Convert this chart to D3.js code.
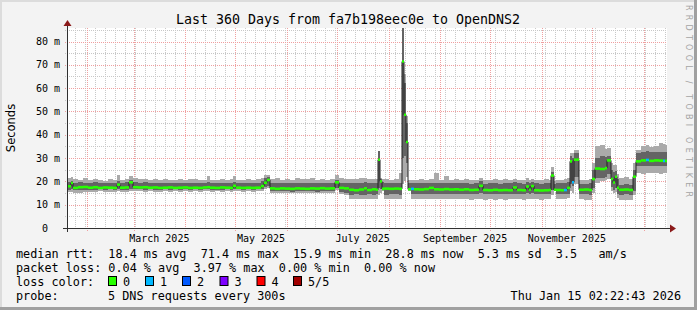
<!DOCTYPE html>
<html>
<head>
<meta charset="utf-8">
<script src="https://cdn.jsdelivr.net/npm/d3@7"></script>
<style>
  body { margin: 0; background: #f3f3f3; }
  svg { display: block; font-family: "DejaVu Sans Mono", monospace; }
</style>
</head>
<body>
<script>
// ---- data ----
var titleText = "Last 360 Days from fa7b198eec0e to OpenDNS2";
var startTime = "2025-01-20T02:22:43Z";
var endTime = "2026-01-15T02:22:43Z";

// days since start where each consolidated step begins
var dayOffset = [
  0, 2.4, 3.6, 6.6, 9.6, 12.6, 15.6, 18.6, 21.6, 24.6,
  27.6, 30, 31.8, 34.8, 37.2, 39.6, 42.6, 45.6, 48.6, 51.6,
  54.6, 57.6, 60.6, 63.6, 66.6, 69.6, 72.6, 75.6, 78.6, 81.6,
  84, 85.8, 88.8, 91.8, 94.8, 97.8, 99.6, 101.4, 104.4, 107.4,
  110.4, 113.4, 116.4, 118.2, 120, 121.8, 124.8, 127.8, 130.8, 133.8,
  136.8, 139.8, 142.8, 145.8, 148.8, 151.8, 154.8, 157.8, 160.8, 163.2,
  166.2, 169.2, 172.2, 175.2, 178.2, 180, 183, 185.4, 186.6, 187.8,
  189, 190.2, 193.2, 196.2, 199.2, 201, 202.2, 203.4, 204.6, 206.4,
  208.2, 211.2, 214.2, 217.2, 220.2, 223.2, 226.2, 229.2, 232.2, 235.2,
  238.2, 241.2, 244.2, 247.2, 249.6, 252.6, 255.6, 258.6, 261.6, 264.6,
  267.6, 270, 273, 275.4, 277.2, 278.4, 280.2, 283.2, 286.2, 289.2,
  290.4, 292.2, 293.4, 296.4, 298.2, 300, 301.8, 303, 304.2, 307.2,
  310.2, 313.2, 315, 316.8, 319.8, 322.8, 324, 326.4, 327.6, 328.8,
  330, 331.2, 334.2, 337.2, 339.6, 341.4, 344.4, 347.4, 349.2, 352.2,
  355.2, 357.6, 358.8
];

// median rtt (ms)
var medianRtt = [
  17.9, 19.3, 17.2, 17.5, 17.6, 17.3, 17.5, 17.2, 17.4, 17.3,
  17.2, 18.6, 17.3, 17.4, 19.6, 17.5, 17.4, 17.5, 17.3, 17.4,
  17.2, 17.3, 17.4, 17.2, 17.3, 17.4, 17.2, 17.3, 17.2, 17.4,
  17.5, 17.3, 17.2, 17.4, 17.3, 17.2, 18.1, 17.3, 17.2, 17.3,
  17.2, 17.3, 18.0, 19.4, 20.6, 17.0, 16.8, 17.0, 16.9, 16.8,
  17.0, 16.9, 16.8, 17.0, 16.9, 17.1, 16.9, 17.0, 19.6, 17.2,
  17.0, 16.4, 16.2, 16.5, 17.0, 16.3, 16.6, 16.4, 29.3, 20.0,
  16.8, 16.9, 16.8, 16.9, 16.8, 71.4, 48.6, 36.9, 16.6, 16.8,
  16.6, 16.5, 16.7, 17.2, 16.6, 16.5, 16.7, 16.5, 16.6, 16.4,
  16.6, 16.3, 16.4, 18.1, 16.3, 16.2, 16.4, 16.2, 16.3, 16.2,
  17.4, 16.3, 16.2, 17.8, 16.4, 18.0, 16.2, 16.1, 16.2, 16.3,
  22.5, 16.4, 16.3, 16.2, 16.3, 17.2, 28.6, 19.6, 29.3, 16.4,
  16.5, 16.3, 21.0, 25.5, 25.3, 25.7, 29.0, 21.0, 19.5, 22.0,
  17.2, 16.4, 16.5, 16.3, 22.0, 28.6, 29.0, 29.2, 28.8, 29.0,
  28.9, 28.8, 28.8
];

// smoke: lowest ping, inner band low, inner band high, highest ping (ms)
var pingMin = [
  15.3, 15.6, 15.0, 15.2, 15.4, 15.6, 15.5, 15.7, 15.6, 15.5,
  15.6, 15.8, 15.6, 15.5, 16.0, 15.7, 15.8, 15.6, 15.7, 15.6,
  15.5, 15.7, 15.6, 15.8, 15.6, 15.7, 15.6, 15.8, 15.6, 15.7,
  15.8, 15.6, 15.7, 15.6, 15.8, 15.6, 15.9, 15.7, 15.6, 15.7,
  15.6, 15.8, 16.0, 16.6, 17.0, 15.0, 15.1, 15.0, 15.2, 15.0,
  15.1, 15.0, 15.2, 15.0, 15.1, 15.0, 15.2, 15.0, 16.2, 14.8,
  14.2, 12.6, 12.4, 12.3, 12.5, 12.4, 12.6, 12.5, 14.0, 15.0,
  16.0, 12.5, 12.4, 12.6, 12.5, 19.0, 20.0, 22.0, 16.0, 12.4,
  12.3, 12.4, 12.3, 12.5, 12.4, 12.3, 12.4, 12.3, 12.5, 12.3,
  12.4, 12.2, 12.3, 12.6, 12.2, 12.3, 12.1, 12.3, 12.2, 12.4,
  12.5, 12.3, 12.2, 12.6, 12.3, 12.5, 12.3, 12.2, 12.3, 12.4,
  14.0, 15.8, 12.4, 12.3, 12.5, 13.0, 16.0, 15.0, 19.0, 12.4,
  12.2, 12.1, 15.0, 19.5, 20.0, 20.5, 21.0, 16.0, 15.0, 15.5,
  13.0, 12.1, 12.0, 12.2, 14.0, 23.6, 23.2, 23.5, 23.4, 23.6,
  23.3, 23.5, 23.4
];
var pingLow = [
  16.4, 16.8, 16.2, 16.3, 16.5, 16.5, 16.4, 16.6, 16.5, 16.6,
  16.4, 16.7, 16.5, 16.4, 16.9, 16.6, 16.6, 16.5, 16.6, 16.5,
  16.4, 16.6, 16.5, 16.6, 16.5, 16.6, 16.4, 16.6, 16.5, 16.6,
  16.7, 16.5, 16.5, 16.4, 16.6, 16.5, 16.8, 16.6, 16.5, 16.6,
  16.4, 16.6, 16.9, 17.6, 18.2, 15.8, 15.7, 15.8, 15.7, 15.6,
  15.8, 15.7, 15.8, 15.7, 15.6, 15.8, 15.7, 15.8, 17.0, 15.6,
  15.2, 14.3, 14.4, 14.2, 14.3, 14.4, 14.3, 14.5, 17.0, 16.6,
  16.3, 14.3, 14.4, 14.5, 14.3, 30.0, 30.7, 28.0, 16.2, 14.5,
  14.6, 14.4, 14.5, 14.6, 14.5, 14.4, 14.6, 14.5, 14.4, 14.5,
  14.5, 14.6, 14.5, 15.0, 14.6, 14.5, 14.4, 14.6, 14.5, 14.5,
  14.8, 14.5, 14.4, 15.0, 14.6, 15.0, 14.5, 14.4, 14.5, 14.6,
  16.5, 16.0, 14.5, 14.4, 14.6, 14.8, 19.0, 18.0, 22.0, 14.6,
  14.4, 14.3, 17.0, 21.4, 21.4, 22.0, 23.0, 17.5, 16.5, 17.0,
  14.8, 14.3, 14.4, 14.3, 16.0, 26.4, 26.4, 26.6, 26.4, 26.6,
  26.4, 26.5, 26.5
];
var pingHigh = [
  19.6, 20.3, 19.4, 19.8, 19.5, 19.3, 19.6, 19.2, 19.4, 19.5,
  19.3, 20.0, 19.5, 19.6, 20.6, 19.8, 19.4, 19.6, 19.3, 19.5,
  19.4, 19.5, 19.3, 19.4, 19.5, 19.3, 19.4, 19.5, 19.3, 19.4,
  19.6, 19.4, 19.3, 19.5, 19.4, 19.3, 19.8, 19.4, 19.3, 19.5,
  19.4, 19.3, 20.0, 21.4, 22.0, 19.3, 19.2, 19.4, 19.3, 19.2,
  19.4, 19.3, 19.2, 19.4, 19.3, 19.4, 19.3, 19.4, 20.8, 19.3,
  19.2, 19.2, 19.3, 19.4, 19.6, 19.3, 19.4, 19.3, 32.9, 21.0,
  19.6, 19.4, 19.3, 19.4, 19.3, 90.0, 62.0, 45.0, 19.2, 19.2,
  19.1, 19.2, 19.3, 19.4, 19.2, 19.3, 19.4, 19.2, 19.3, 19.1,
  19.3, 19.0, 19.2, 20.0, 19.0, 19.2, 19.1, 19.0, 19.2, 19.1,
  19.6, 19.2, 19.0, 19.8, 19.1, 19.8, 19.2, 19.0, 19.1, 19.2,
  24.0, 19.0, 19.2, 19.1, 19.3, 19.6, 31.0, 30.0, 32.0, 19.0,
  18.8, 19.1, 25.0, 30.0, 30.7, 30.5, 31.0, 25.0, 24.0, 24.5,
  21.0, 18.6, 18.8, 18.6, 25.0, 32.0, 32.5, 32.9, 32.4, 32.8,
  32.6, 32.5, 32.4
];
var pingMax = [
  21.3, 21.9, 21.0, 20.6, 21.4, 20.4, 21.0, 20.7, 20.3, 21.0,
  20.6, 22.9, 20.8, 21.2, 22.4, 21.5, 20.9, 21.1, 20.5, 21.0,
  20.4, 21.1, 20.6, 20.8, 21.2, 20.5, 20.9, 21.0, 20.4, 20.8,
  22.3, 20.7, 20.5, 21.0, 20.6, 20.9, 22.4, 20.8, 20.5, 21.0,
  20.6, 20.9, 21.6, 22.9, 22.9, 21.0, 21.4, 20.8, 21.2, 20.6,
  21.3, 20.9, 21.0, 21.4, 20.7, 21.2, 20.8, 21.0, 22.9, 21.3,
  21.0, 21.2, 20.9, 21.4, 21.6, 21.0, 21.2, 21.1, 32.9, 21.6,
  21.0, 21.0, 20.6, 21.2, 23.5, 90.0, 66.0, 48.0, 20.6, 20.7,
  20.5, 20.9, 20.6, 21.0, 23.6, 20.8, 22.5, 20.6, 21.0, 20.5,
  20.9, 20.7, 20.6, 21.4, 20.8, 20.5, 20.9, 20.6, 21.0, 20.7,
  21.2, 20.8, 20.6, 21.4, 20.7, 21.0, 20.8, 20.5, 20.9, 20.7,
  26.2, 20.0, 20.8, 20.6, 20.9, 21.6, 32.2, 32.0, 33.5, 20.8,
  20.6, 21.0, 28.0, 35.0, 35.7, 34.0, 34.5, 28.0, 27.0, 27.0,
  23.0, 21.5, 21.8, 21.0, 28.0, 33.5, 35.0, 35.5, 34.8, 35.2,
  36.5, 36.0, 35.8
];
// lost pings per step (out of 5)
var lostPings = [
  0, 0, 0, 0, 0, 0, 0, 0, 0, 0,
  0, 0, 0, 0, 0, 0, 0, 0, 0, 0,
  0, 0, 0, 0, 0, 0, 0, 0, 0, 0,
  0, 0, 0, 0, 0, 0, 0, 0, 0, 0,
  0, 0, 0, 0, 0, 0, 0, 0, 0, 0,
  0, 0, 0, 0, 0, 0, 0, 0, 0, 0,
  0, 0, 0, 0, 0, 0, 0, 0, 0, 0,
  0, 0, 0, 0, 0, 0, 0, 0, 0, 1,
  0, 0, 0, 0, 0, 0, 0, 0, 0, 0,
  0, 0, 0, 0, 0, 0, 0, 0, 0, 0,
  0, 0, 0, 0, 0, 0, 0, 0, 0, 0,
  0, 0, 0, 0, 1, 0, 0, 1, 0, 0,
  0, 0, 0, 0, 0, 0, 0, 0, 0, 0,
  0, 0, 0, 0, 0, 0, 0, 1, 0, 0,
  0, 1, 0
];

var yTickValues = [0, 10, 20, 30, 40, 50, 60, 70, 80];
var yTickLabels = ["0", "10 m", "20 m", "30 m", "40 m", "50 m", "60 m", "70 m", "80 m"];
var xTickLabels = ["March 2025", "May 2025", "July 2025", "September 2025", "November 2025"];

var lossNames = ["0", "1", "2", "3", "4", "5/5"];
var lossColors = ["#26ff00", "#00b8ff", "#0059ff", "#7e00ff", "#ff0000", "#a10000"];

var legendRtt = ["18.4 ms avg", "71.4 ms max", "15.9 ms min", "28.8 ms now", "5.3 ms sd", "3.5   am/s"];
var legendLoss = ["0.04 % avg", "3.97 % max", "0.00 % min", "0.00 % now"];
var probeText = "5 DNS requests every 300s";
var stampText = "Thu Jan 15 02:22:43 2026";

// ---- layout ----
var W = 697, H = 310;
var plotLeft = 67, plotTop = 28, plotW = 600, plotH = 200;
var plotBottom = plotTop + plotH;

var t0 = new Date(startTime), t1 = new Date(endTime);
var DAY = 86400000;

var rows = dayOffset.map(function (d, i) {
    return {
        t: new Date(t0.getTime() + d * DAY),
        med: medianRtt[i], lo: pingMin[i], ilo: pingLow[i],
        ihi: pingHigh[i], hi: pingMax[i], loss: lostPings[i]
    };
});
var lastRow = rows[rows.length - 1];
var rowsEnd = rows.concat([Object.assign({}, lastRow, { t: t1 })]);

var x = d3.scaleUtc().domain([t0, t1]).range([plotLeft, plotLeft + plotW]);
var y = d3.scaleLinear().domain([0, 85.8]).range([plotBottom, plotTop]);

var svg = d3.select("body").append("svg")
    .attr("width", W)
    .attr("height", H);

// frame
svg.append("rect").attr("width", W).attr("height", H).attr("fill", "#f3f3f3");
svg.append("rect").attr("x", 0).attr("y", 0).attr("width", W).attr("height", 2).attr("fill", "#dcdcdc");
svg.append("rect").attr("x", 0).attr("y", 0).attr("width", 2).attr("height", H).attr("fill", "#dcdcdc");
svg.append("rect").attr("x", W - 3).attr("y", 0).attr("width", 3).attr("height", H).attr("fill", "#a0a0a0");
svg.append("rect").attr("x", 0).attr("y", H - 3).attr("width", W).attr("height", 3).attr("fill", "#a0a0a0");

// canvas
svg.append("rect")
    .attr("x", plotLeft).attr("y", plotTop)
    .attr("width", plotW).attr("height", plotH)
    .attr("fill", "#ffffff");

svg.append("defs").append("clipPath").attr("id", "clip")
    .append("rect")
    .attr("x", plotLeft).attr("y", plotTop)
    .attr("width", plotW).attr("height", plotH);

var grid = svg.append("g").attr("shape-rendering", "crispEdges");

// minor grid
var minorY = d3.range(5, 86, 10);
grid.selectAll(".hminor").data(minorY).enter().append("line")
    .attr("x1", plotLeft - 2).attr("x2", plotLeft + plotW)
    .attr("y1", function (d) { return Math.round(y(d)) + 0.5; })
    .attr("y2", function (d) { return Math.round(y(d)) + 0.5; })
    .attr("stroke", "#c8c8c8").attr("stroke-dasharray", "1,1");

var minorX = d3.range(5, 360, 6).map(function (d) { return new Date(t0.getTime() + d * DAY); });
grid.selectAll(".vminor").data(minorX).enter().append("line")
    .attr("x1", function (d) { return Math.round(x(d)) + 0.5; })
    .attr("x2", function (d) { return Math.round(x(d)) + 0.5; })
    .attr("y1", plotTop).attr("y2", plotBottom + 2)
    .attr("stroke", "#c8c8c8").attr("stroke-dasharray", "1,1");

// major grid
grid.selectAll(".hmajor").data(yTickValues.slice(1)).enter().append("line")
    .attr("x1", plotLeft - 2).attr("x2", plotLeft + plotW)
    .attr("y1", function (d) { return Math.round(y(d)) + 0.5; })
    .attr("y2", function (d) { return Math.round(y(d)) + 0.5; })
    .attr("stroke", "#f0a0a0").attr("stroke-dasharray", "1,1");

var months = d3.utcMonth.range(t0, t1);
grid.selectAll(".vmajor").data(months).enter().append("line")
    .attr("x1", function (d) { return Math.round(x(d)) + 0.5; })
    .attr("x2", function (d) { return Math.round(x(d)) + 0.5; })
    .attr("y1", plotTop).attr("y2", plotBottom + 3)
    .attr("stroke", "#f0a0a0").attr("stroke-dasharray", "1,1");

// smoke and median
var plot = svg.append("g").attr("clip-path", "url(#clip)");

var outer = d3.area().curve(d3.curveStepAfter)
    .x(function (d) { return x(d.t); })
    .y0(function (d) { return y(d.lo); })
    .y1(function (d) { return y(d.hi); });
var inner = d3.area().curve(d3.curveStepAfter)
    .x(function (d) { return x(d.t); })
    .y0(function (d) { return y(d.ilo); })
    .y1(function (d) { return y(d.ihi); });

plot.append("path").datum(rowsEnd).attr("d", outer)
    .attr("fill", "#aaaaaa").attr("shape-rendering", "crispEdges");
plot.append("path").datum(rowsEnd).attr("d", inner)
    .attr("fill", "#646464").attr("shape-rendering", "crispEdges");

var medLine = d3.line().curve(d3.curveStepAfter)
    .x(function (d) { return x(d.t); })
    .y(function (d) { return y(d.med); });
plot.append("path").datum(rowsEnd).attr("d", medLine)
    .attr("fill", "none").attr("stroke", "#202020").attr("stroke-width", 1);

plot.selectAll(".seg").data(rows).enter().append("line")
    .attr("x1", function (d) { return x(d.t); })
    .attr("x2", function (d, i) { return x(rowsEnd[i + 1].t); })
    .attr("y1", function (d) { return y(d.med); })
    .attr("y2", function (d) { return y(d.med); })
    .attr("stroke", function (d) { return lossColors[d.loss]; })
    .attr("stroke-width", 2.6);

// axes
var axisColor = "#303030", arrowColor = "#8b1a1a";
svg.append("line")
    .attr("x1", plotLeft - 4).attr("x2", plotLeft + plotW + 4)
    .attr("y1", plotBottom + 0.5).attr("y2", plotBottom + 0.5)
    .attr("stroke", axisColor);
svg.append("path")
    .attr("d", "M" + (plotLeft + plotW + 3) + "," + (plotBottom - 3.5) + "L" + (plotLeft + plotW + 9) + "," + (plotBottom + 0.5) + "L" + (plotLeft + plotW + 3) + "," + (plotBottom + 4.5) + "Z")
    .attr("fill", arrowColor);
svg.append("line")
    .attr("x1", plotLeft + 0.5).attr("x2", plotLeft + 0.5)
    .attr("y1", plotBottom + 4).attr("y2", plotTop - 3)
    .attr("stroke", axisColor);
svg.append("path")
    .attr("d", "M" + (plotLeft - 3.5) + "," + (plotTop - 2) + "L" + (plotLeft + 0.5) + "," + (plotTop - 8) + "L" + (plotLeft + 4.5) + "," + (plotTop - 2) + "Z")
    .attr("fill", arrowColor);

// y tick labels
svg.selectAll(".ylab").data(yTickValues).enter().append("text")
    .attr("x", function (d, i) { return yTickLabels[i].indexOf(" ") < 0 ? 48 : 60; })
    .attr("y", function (d) { return y(d) + 3.5; })
    .attr("text-anchor", "end")
    .attr("font-size", "10px")
    .text(function (d, i) { return yTickLabels[i]; });

// x tick labels, centred on the month
var parseMonth = d3.utcParse("%B %Y");
svg.selectAll(".xlab").data(xTickLabels).enter().append("text")
    .attr("x", function (d) {
        var m = parseMonth(d);
        return (x(m) + x(d3.utcMonth.offset(m, 1))) / 2;
    })
    .attr("y", plotBottom + 13.5)
    .attr("text-anchor", "middle")
    .attr("font-size", "10px")
    .text(function (d) { return d; });

// titles
svg.append("text")
    .attr("x", 348).attr("y", 24)
    .attr("text-anchor", "middle")
    .attr("font-size", "13.3px")
    .text(titleText);

svg.append("text")
    .attr("transform", "translate(15,128) rotate(-90)")
    .attr("text-anchor", "middle")
    .attr("font-size", "11.5px")
    .attr("font-family", "DejaVu Sans, sans-serif")
    .text("Seconds");

svg.append("text")
    .attr("transform", "translate(686,5) rotate(90)")
    .attr("font-size", "8px")
    .attr("font-family", "DejaVu Sans, sans-serif")
    .attr("fill", "#a4a4a4")
    .attr("textLength", 192)
    .attr("lengthAdjust", "spacing")
    .text("RRDTOOL / TOBI OETIKER");

// legend: monospace lines, spaces kept as non-breaking
function keep(s) { return s.replace(/ /g, "\u00a0"); }
var lg = svg.append("g").attr("font-size", "11.8px");
var rowY = [258, 272, 286, 300];
var colX = 16;

lg.append("text").attr("x", colX).attr("y", rowY[0])
    .text(keep("median rtt:  " + legendRtt.join("  ")));
lg.append("text").attr("x", colX).attr("y", rowY[1])
    .text(keep("packet loss: " + legendLoss.join("  ")));

lg.append("text").attr("x", colX).attr("y", rowY[2]).text(keep("loss color:"));
var boxX = [108, 145, 182, 219.5, 256.5, 293];
lg.selectAll(".lbox").data(lossNames).enter().append("rect")
    .attr("x", function (d, i) { return boxX[i] + 0.5; })
    .attr("y", rowY[2] - 9.5)
    .attr("width", 8).attr("height", 9)
    .attr("fill", function (d, i) { return lossColors[i]; })
    .attr("stroke", "#000").attr("stroke-width", 1);
lg.selectAll(".lname").data(lossNames).enter().append("text")
    .attr("x", function (d, i) { return boxX[i] + 15; })
    .attr("y", rowY[2])
    .text(function (d) { return d; });

lg.append("text").attr("x", colX).attr("y", rowY[3]).text("probe:");
lg.append("text").attr("x", 108).attr("y", rowY[3]).text(keep(probeText));
lg.append("text").attr("x", 681).attr("y", rowY[3]).attr("text-anchor", "end").text(keep(stampText));
</script>
</body>
</html>
